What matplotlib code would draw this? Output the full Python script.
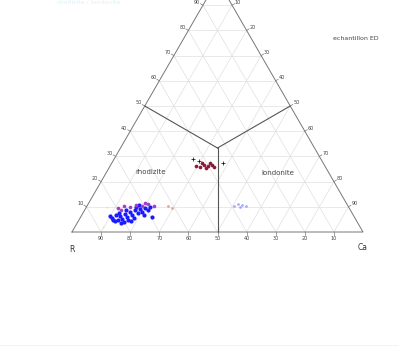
import numpy as np
import matplotlib
matplotlib.use("Agg")
import matplotlib.pyplot as plt

# compositions in percent: Ca and X (top apex), R is the remainder
blue_ca = [11.0, 12.6, 13.4, 13.3, 14.6, 14.6, 15.9, 15.9, 16.0, 17.2, 16.9, 17.3, 18.9, 18.5, 18.8,
           20.1, 20.3, 21.7, 21.8, 12.4, 11.7, 14.2, 17.0, 11.7, 15.1, 18.1, 21.4, 24.5, 9.9, 17.6]
blue_x = [5.6, 4.4, 4.8, 6.4, 5.2, 7.1, 6.0, 4.0, 7.9, 6.7, 4.8, 8.7, 7.5, 5.6, 9.1,
          7.9, 9.5, 8.7, 9.9, 7.5, 6.7, 8.7, 9.9, 4.8, 3.6, 4.4, 6.7, 6.0, 6.4, 10.7]
mag_ca = [11.0, 12.7, 15.0, 16.6, 18.9, 20.5, 23.0, 12.5, 19.3]
mag_x = [9.5, 10.3, 9.9, 10.7, 10.3, 11.1, 10.3, 8.7, 11.5]
orange_ca = [27.8, 29.6]
orange_x = [10.3, 9.5]
yellow_ca = [7.0, 9.5]
yellow_x = [9.9, 2.0]
red_ca = [29.6, 31.1, 32.1, 33.7, 34.9, 33.4, 33.8, 35.9, 31.0]
red_x = [26.2, 25.8, 26.6, 26.2, 26.6, 25.4, 27.4, 25.8, 27.4]
black_ca = [27.1, 29.6, 38.2]
black_x = [29.0, 28.2, 27.4]
lblue_ca = [50.5, 51.5, 53.1, 54.7, 52.8]
lblue_x = [10.3, 11.1, 10.7, 10.3, 9.9]

ticks = [10, 20, 30, 40, 50, 60, 70, 80, 90]
field_names = ["rhodizite", "londonite"]

H = np.sqrt(3) / 2


def cart(ca, x):
    ca = np.asarray(ca, dtype=float) / 100
    x = np.asarray(x, dtype=float) / 100
    return ca + x / 2, x * H


fig = plt.figure(figsize=(3.98, 3.46), dpi=100)
ax = fig.add_axes([0, 0, 1, 1])
ax.set_xlim(-72 / 291, 326 / 291)
ax.set_ylim(-114 / 291, 232 / 291)
ax.axis("off")

# grid every 10 %
for k in ticks:
    for (a, b) in [((0, k), (100 - k, k)), ((k, 0), (k, 100 - k)), ((100 - k, 0), (0, 100 - k))]:
        px, py = cart([a[0], b[0]], [a[1], b[1]])
        ax.plot(px, py, color="#e0e0e0", lw=0.5, zorder=1)

# outline
px, py = cart([0, 100, 0, 0], [0, 0, 100, 0])
ax.plot(px, py, color="#777777", lw=0.7, zorder=2)

# field boundaries: centroid to edge midpoints
cx, cy = cart(100 / 3, 100 / 3)
for ca, x in [(50, 0), (0, 50), (50, 50)]:
    mx, my = cart(ca, x)
    ax.plot([cx, mx], [cy, my], color="#555555", lw=0.8, zorder=2)

# ticks and tick labels
d = 1 / 291
for k in ticks:
    bx, by = cart(k, 0)
    ax.plot([bx, bx], [by, by - 2.5 * d], color="#777777", lw=0.5)
    ax.text(bx, by - 7 * d, str(100 - k), fontsize=3.5, color="#444444", ha="center", va="center")
    lx, ly = cart(0, k)
    ax.plot([lx, lx - 2.5 * d], [ly, ly + 1.5 * d], color="#777777", lw=0.5)
    ax.text(lx - 6 * d, ly + 3 * d, str(k), fontsize=3.5, color="#444444", ha="center", va="center")
    rx, ry = cart(100 - k, k)
    ax.plot([rx, rx + 2.5 * d], [ry, ry + 1.5 * d], color="#777777", lw=0.5)
    ax.text(rx + 6 * d, ry + 3 * d, str(100 - k), fontsize=3.5, color="#444444", ha="center", va="center")

# corner labels
ax.text(0, -17 * d, "R", fontsize=5.5, color="#333333", ha="center", va="center")
ax.text(1, -15 * d, "Ca", fontsize=5.5, color="#333333", ha="center", va="center")

# field names
fx, fy = cart(15, 24)
ax.text(fx, fy, field_names[0], fontsize=5, color="#444444", ha="center", va="center")
fx, fy = cart(59, 23.5)
ax.text(fx, fy, field_names[1], fontsize=5, color="#444444", ha="center", va="center")

# samples
ax.scatter(*cart(yellow_ca, yellow_x), s=3, color="#f0e68c", alpha=0.6, zorder=3, linewidths=0)
ax.scatter(*cart(blue_ca, blue_x), s=9, color="#1a1aff", zorder=4, linewidths=0)
ax.scatter(*cart(mag_ca, mag_x), s=7, color="#a040c8", zorder=4, linewidths=0)
ax.scatter(*cart(orange_ca, orange_x), s=4, color="#f4a090", zorder=4, linewidths=0)
ax.scatter(*cart(red_ca, red_x), s=7, color="#8b1a3a", zorder=4, linewidths=0)
ax.scatter(*cart(black_ca, black_x), s=6, marker="+", color="black", lw=0.5, zorder=5)
ax.scatter(*cart(lblue_ca, lblue_x), s=4, color="#8888ff", alpha=0.7, zorder=4, linewidths=0)

ax.text(333 / 398, 1 - 38 / 346, "echantillon ED", fontsize=4.5, color="#444444",
        transform=fig.transFigure, ha="left", va="center")
ax.text(57 / 398, 1 - 2 / 346, "rhodizite / londonite", fontsize=4.5, color="#d8f4f8",
        transform=fig.transFigure, ha="left", va="center")
fig.add_artist(plt.Line2D([0, 1], [0.5 / 346, 0.5 / 346], transform=fig.transFigure,
                          color="#b8c8d0", lw=1))

fig.savefig("out.png", dpi=100)
